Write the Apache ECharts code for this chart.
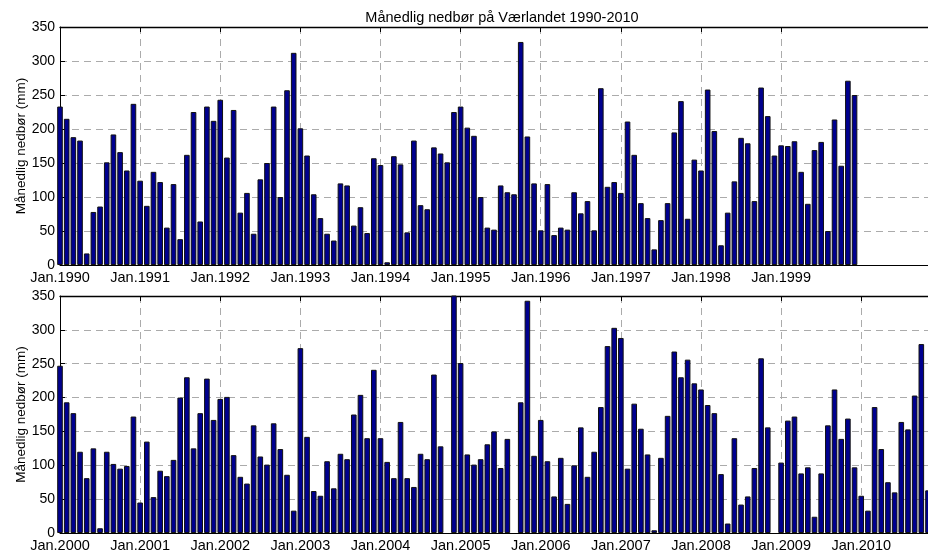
<!DOCTYPE html>
<html>
<head>
<meta charset="utf-8">
<script src="https://cdn.jsdelivr.net/npm/echarts@6/dist/echarts.min.js"></script>
<style>
  html, body { margin: 0; background: #fff; }
  #main { width: 928px; height: 553px; }
</style>
</head>
<body>
<div id="main"></div>
<script>
// Månedlig nedbør (mm), Værlandet
var chartTitle = 'Månedlig nedbør på Værlandet 1990-2010';
var yName = 'Månedlig nedbør (mm)';
var yTicks = [0, 50, 100, 150, 200, 250, 300, 350];

var years1 = [1990, 1991, 1992, 1993, 1994, 1995, 1996, 1997, 1998, 1999];
var years2 = [2000, 2001, 2002, 2003, 2004, 2005, 2006, 2007, 2008, 2009, 2010];

// jan..des, ett år per linje (null = mangler)
var rain1 = [
  233, 215, 188, 183, 17, 78, 86, 151, 192, 166, 139, 237,
  124, 87, 137, 122, 55, 119, 38, 162, 225, 64, 233, 212,
  243, 158, 228, 77, 106, 46, 126, 150, 233, 100, 257, 312,
  201, 161, 104, 69, 46, 36, 120, 117, 58, 85, 47, 157,
  147, 4, 160, 148, 48, 183, 88, 82, 173, 164, 151, 225,
  233, 202, 190, 100, 55, 52, 117, 107, 104, 328, 189, 120,
  51, 119, 44, 55, 52, 107, 76, 94, 51, 260, 115, 122,
  106, 211, 162, 91, 69, 23, 66, 91, 195, 241, 68, 155,
  139, 258, 197, 29, 77, 123, 187, 179, 94, 261, 219, 161,
  176, 175, 182, 137, 90, 169, 181, 50, 214, 146, 271, 250
];
var rain2 = [
  247, 193, 177, 120, 81, 125, 7, 120, 102, 95, 99, 172,
  45, 135, 53, 92, 84, 108, 200, 230, 125, 177, 228, 167,
  198, 201, 115, 83, 73, 159, 113, 101, 162, 124, 86, 33,
  273, 142, 62, 55, 106, 66, 117, 109, 175, 204, 140, 241,
  140, 105, 81, 164, 81, 68, 117, 109, 234, 128, null, 356,
  251, 116, 101, 109, 131, 150, 96, 139, null, 193, 343, 114,
  167, 106, 54, 111, 43, 100, 156, 83, 120, 186, 276, 303,
  288, 95, 191, 154, 116, 4, 111, 173, 268, 230, 256, 221,
  212, 189, 177, 87, 14, 140, 42, 54, 96, 258, 156, null,
  104, 166, 172, 88, 97, 24, 88, 159, 212, 139, 169, 97,
  55, 33, 186, 124, 75, 60, 164, 153, 203, 279, 63
];

var font = "'Liberation Sans', Arial, sans-serif";
var gridColor = '#ababab';

function monthTicks(years) {
  return years.map(function (y) { return (y - years[0]) * 12; });
}

function bottomAxis(gridIndex, years) {
  var ticks = monthTicks(years);
  return {
    type: 'value', gridIndex: gridIndex, position: 'bottom',
    min: 0, max: 130,
    axisLine: { show: true, onZero: false, lineStyle: { color: '#000', width: 1 } },
    axisTick: { show: true, inside: true, length: 5, customValues: ticks, lineStyle: { color: '#000' } },
    axisLabel: {
      customValues: ticks, color: '#000', fontSize: 14.5, fontFamily: font, margin: 5,
      formatter: function (v) { return 'Jan.' + (years[0] + v / 12); }
    },
    splitLine: { show: true, lineStyle: { color: gridColor, type: [7, 5] } }
  };
}

function topAxis(gridIndex, years) {
  var ticks = monthTicks(years);
  return {
    type: 'value', gridIndex: gridIndex, position: 'top',
    min: 0, max: 130,
    axisLine: { show: true, onZero: false, lineStyle: { color: '#000', width: 1.3 } },
    axisTick: { show: true, inside: true, length: 5, customValues: ticks, lineStyle: { color: '#000' } },
    axisLabel: { show: false },
    splitLine: { show: false }
  };
}

function yAxis(gridIndex) {
  return {
    type: 'value', gridIndex: gridIndex,
    min: 0, max: 350, interval: 50,
    name: yName, nameLocation: 'middle', nameGap: 32, nameMoveOverlap: false,
    nameTextStyle: { color: '#000', fontSize: 13.5, fontFamily: font },
    axisLine: { show: true, lineStyle: { color: '#000', width: 1 } },
    axisTick: { show: true, inside: true, length: 5, lineStyle: { color: '#000' } },
    axisLabel: {
      color: '#000', fontSize: 14, fontFamily: font, margin: 5,
      formatter: function (v) { return yTicks.indexOf(v) >= 0 ? String(v) : ''; }
    },
    splitLine: { show: true, lineStyle: { color: gridColor, type: [7, 5] } }
  };
}

function barSeries(data, xIndex, yIndex) {
  return {
    type: 'bar', xAxisIndex: xIndex, yAxisIndex: yIndex,
    data: data.map(function (v, i) { return [i, v]; }),
    barWidth: 5.6,
    clip: true,
    silent: true,
    itemStyle: { color: '#00008f', borderColor: '#111', borderWidth: 1 }
  };
}

var myChart = echarts.init(document.getElementById('main'), null, { renderer: 'canvas' });
myChart.setOption({
  animation: false,
  backgroundColor: '#fff',
  title: {
    text: chartTitle, left: 497, top: 5, textAlign: 'center',
    textStyle: { fontSize: 14.5, fontWeight: 'normal', color: '#000', fontFamily: font }
  },
  grid: [
    { left: 60, top: 27, right: 0, height: 238 },
    { left: 60, top: 296, right: 0, height: 237 }
  ],
  xAxis: [
    bottomAxis(0, years1), topAxis(0, years1),
    bottomAxis(1, years2), topAxis(1, years2)
  ],
  yAxis: [yAxis(0), yAxis(1)],
  series: [
    barSeries(rain1, 0, 0),
    barSeries(rain2, 2, 1)
  ]
});
</script>
</body>
</html>
